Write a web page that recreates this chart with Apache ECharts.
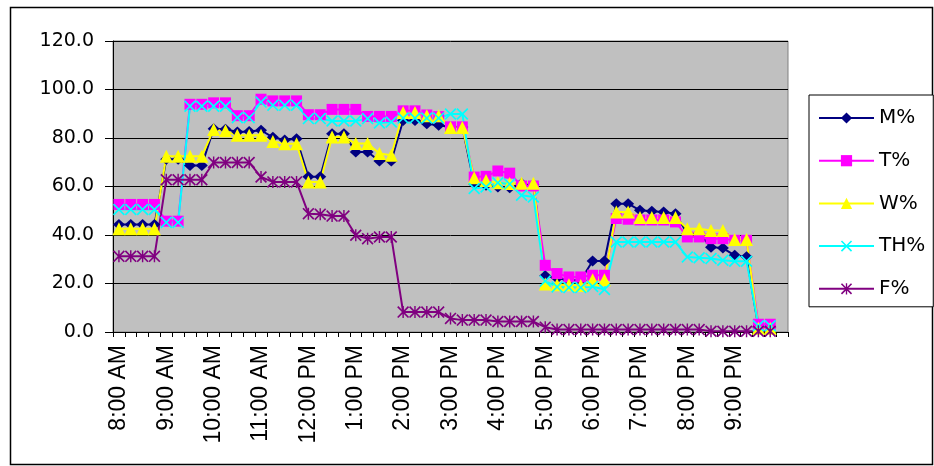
<!DOCTYPE html>
<html>
<head>
<meta charset="utf-8">
<script src="https://cdn.jsdelivr.net/npm/echarts@6/dist/echarts.min.js"></script>
<style>
html,body{margin:0;padding:0;background:#fff;}
#chart{width:934px;height:466px;}
</style>
</head>
<body>
<div id="chart"></div>
<script>
var categories = [
"8:00 AM","8:15 AM","8:30 AM","8:45 AM",
"9:00 AM","9:15 AM","9:30 AM","9:45 AM",
"10:00 AM","10:15 AM","10:30 AM","10:45 AM",
"11:00 AM","11:15 AM","11:30 AM","11:45 AM",
"12:00 PM","12:15 PM","12:30 PM","12:45 PM",
"1:00 PM","1:15 PM","1:30 PM","1:45 PM",
"2:00 PM","2:15 PM","2:30 PM","2:45 PM",
"3:00 PM","3:15 PM","3:30 PM","3:45 PM",
"4:00 PM","4:15 PM","4:30 PM","4:45 PM",
"5:00 PM","5:15 PM","5:30 PM","5:45 PM",
"6:00 PM","6:15 PM","6:30 PM","6:45 PM",
"7:00 PM","7:15 PM","7:30 PM","7:45 PM",
"8:00 PM","8:15 PM","8:30 PM","8:45 PM",
"9:00 PM","9:15 PM","9:30 PM","9:45 PM",
"10:00 PM"];

var seriesNames = ["M%","T%","W%","TH%","F%"];

var mValues = [44.3,44.3,44.3,44.3, 71.2,71.2,68.7,68.7, 83.8,83.6,82.5,82.7, 83.2,80.3,79.2,79.7, 64.0,64.0,81.8,81.8, 74.2,74.2,70.5,70.5, 87.2,87.2,85.9,85.3, 84.5,84.5,61.0,60.5, 59.8,59.5,61.2,60.8, 23.2,22.2,21.3,21.3, 29.3,29.3,52.9,52.9, 50.2,49.8,49.5,48.8, 40.5,40.5,35.0,34.6, 31.6,31.0,2.0,2.0];
var tValues = [52.6,52.6,52.6,52.6, 45.7,45.7,93.9,93.9, 94.5,94.5,89.2,89.2, 96.0,95.3,95.3,95.3, 89.6,89.6,91.8,91.8, 91.8,88.9,88.9,88.9, 91.2,91.2,89.5,88.8, 84.6,84.6,63.9,64.2, 66.4,65.5,60.2,60.2, 27.5,24.1,22.7,22.7, 23.4,23.4,46.8,46.5, 46.2,46.2,46.2,45.4, 39.2,39.2,38.5,38.5, 37.8,37.8,3.2,3.2];
var wValues = [42.6,42.6,42.6,42.6, 72.5,72.5,72.5,72.5, 83.5,83.0,81.1,81.1, 81.1,78.6,77.6,77.6, 61.9,61.9,80.4,80.4, 77.7,77.7,73.6,72.9, 90.5,90.5,89.2,89.2, 84.3,84.3,63.6,62.5, 61.5,61.2,61.3,61.3, 19.8,19.5,19.5,19.2, 21.5,21.5,49.5,49.5, 47.2,47.2,47.2,47.2, 42.6,42.6,41.9,41.9, 38.1,38.1,1.5,1.5];
var thValues = [50.5,50.5,50.5,50.5, 45.2,45.2,93.1,93.1, 93.1,93.1,88.4,88.4, 94.8,93.5,93.5,93.5, 88.0,88.0,87.0,87.0, 87.0,88.0,86.2,86.6, 88.2,88.2,88.2,88.2, 89.9,89.9,59.2,59.8, 61.5,61.0,56.4,55.7, 21.0,18.6,18.3,18.3, 18.8,17.5,37.1,37.1, 37.1,37.1,37.1,37.1, 30.9,30.6,30.3,29.6, 29.2,29.2,2.6,2.6];
var fValues = [31.2,31.2,31.2,31.2, 62.8,62.8,62.8,62.8, 69.9,69.9,69.9,69.9, 63.9,61.9,61.9,61.9, 48.8,48.6,47.8,47.8, 39.9,38.5,39.2,39.2, 8.2,8.2,8.2,8.2, 5.6,4.9,4.9,4.9, 4.3,4.3,4.3,4.3, 2.0,1.0,1.0,1.0, 1.0,1.0,1.0,1.0, 1.0,1.0,1.0,1.0, 1.0,1.0,0.3,0.3, 0.3,0.3,0.3,0.3];

var yTicks = [0,20,40,60,80,100,120];

var X_PATH = 'path://M0,1 L1,0 L5,4 L9,0 L10,1 L6,5 L10,9 L9,10 L5,6 L1,10 L0,9 L4,5 Z';
var STAR_PATH = 'path://M0,1 L1,0 L5,4 L9,0 L10,1 L6,5 L10,9 L9,10 L5,6 L1,10 L0,9 L4,5 Z M4.4,0 L5.6,0 L5.6,10 L4.4,10 Z';

function mk(name, data, color, symbol, size) {
  return {
    name: name, type: 'line', data: data,
    symbol: symbol, symbolSize: size,
    showAllSymbol: true,
    lineStyle: {color: color, width: 2},
    itemStyle: {color: color},
    emphasis: {disabled: true}
  };
}

var chart = echarts.init(document.getElementById('chart'));
chart.setOption({
  animation: false,
  backgroundColor: '#ffffff',
  graphic: [{
    type: 'rect', left: 8, top: 5, z: -10,
    shape: {width: 922, height: 457},
    style: {fill: 'none', stroke: '#000', lineWidth: 1.5}
  }],
  grid: {
    left: 113, top: 41, width: 675, height: 291,
    show: true, backgroundColor: '#C0C0C0', borderColor: '#808080', borderWidth: 1
  },
  legend: {
    orient: 'vertical', left: 809, top: 95,
    padding: [13, 8, 8, 9],
    itemWidth: 55, itemHeight: 14, itemGap: 22.7,
    borderColor: '#000', borderWidth: 1, backgroundColor: '#fff',
    textStyle: {fontFamily: 'DejaVu Sans', fontSize: 20, color: '#000'},
    data: seriesNames
  },
  xAxis: {
    type: 'category', data: categories, boundaryGap: true,
    axisLine: {lineStyle: {color: '#000', width: 1}},
    axisTick: {show: true, interval: 0, length: 5, lineStyle: {color: '#000'}},
    axisLabel: {
      rotate: 90, margin: 13, color: '#000',
      fontFamily: 'Liberation Sans', fontSize: 23,
      interval: function (i) { return i % 4 === 0 && i < 56; }
    },
    splitLine: {show: false}
  },
  yAxis: {
    type: 'value', min: 0, max: 120, interval: 20,
    axisLine: {show: true, lineStyle: {color: '#000', width: 1}},
    axisTick: {show: true, length: 8, lineStyle: {color: '#000'}},
    axisLabel: {
      margin: 19, color: '#000', fontFamily: 'DejaVu Sans', fontSize: 19,
      formatter: function (v) { return v.toFixed(1); }
    },
    splitLine: {show: true, lineStyle: {color: '#000', width: 1}}
  },
  series: [
    mk(seriesNames[0], mValues, '#000080', 'diamond', [12, 11]),
    mk(seriesNames[1], tValues, '#FF00FF', 'rect', 11),
    mk(seriesNames[2], wValues, '#FFFF00', 'triangle', 13),
    mk(seriesNames[3], thValues, '#00FFFF', X_PATH, 12),
    mk(seriesNames[4], fValues, '#800080', STAR_PATH, 12)
  ]
});
</script>
</body>
</html>
